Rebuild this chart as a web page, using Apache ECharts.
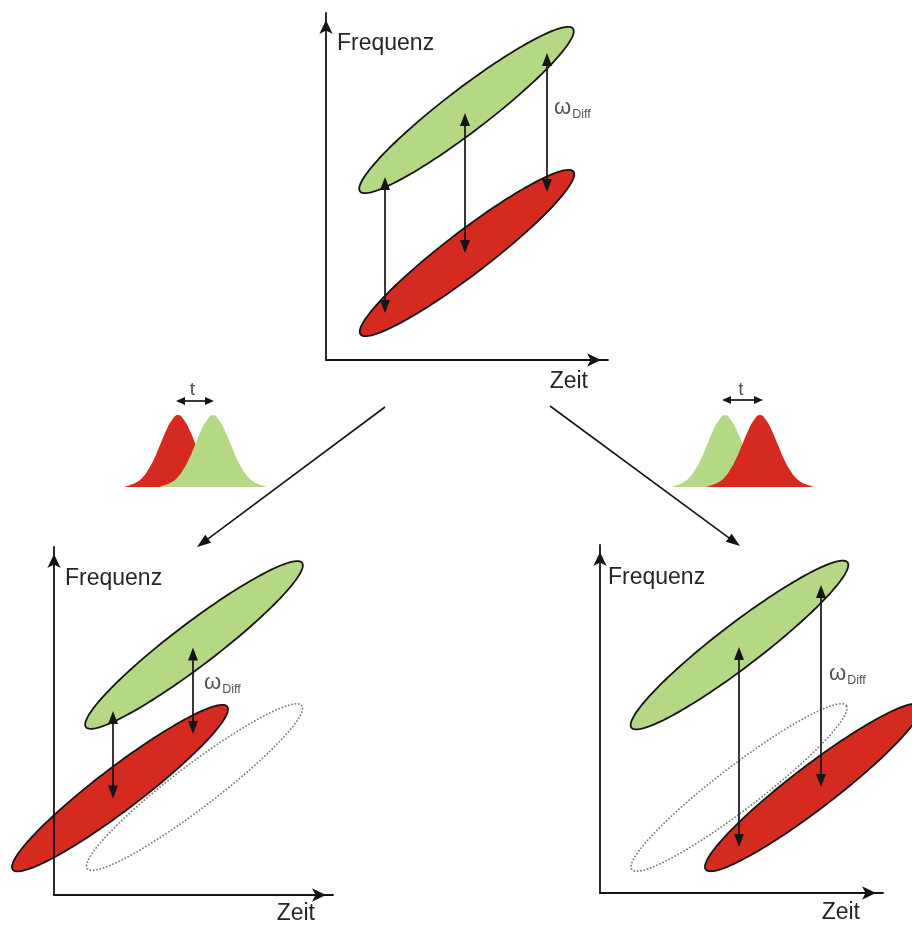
<!DOCTYPE html>
<html><head><meta charset="utf-8">
<script src="https://cdn.jsdelivr.net/npm/echarts@6/dist/echarts.min.js"></script>
<style>html,body{margin:0;padding:0;background:#fff}#c{width:912px;height:925px}</style>
</head><body><div id="c"></div>
<script>
// ---------- text ----------
const yAxisName = 'Frequenz';
const xAxisName = 'Zeit';
const omegaMain = 'ω';
const omegaSub = 'Diff';
const tLabel = 't';

// ---------- panel data (panel units) : [centerX, centerY, semiMajor, semiMinor, angleDeg] ----------
const greenTop = [[140.5, 250, 134, 21.5, 37.4]];
const redTop = [[141, 107, 134, 21.5, 37.4]];
const greenLeft = [[140, 251.5, 136, 21.5, 37.4]];
const redLeft = [[66, 107.5, 135, 21.5, 37.4]];
const dottedLeft = [[140.5, 108.5, 135, 21.5, 37.4]];
const greenRight = [[139.5, 248, 136, 21.5, 37.4]];
const redRight = [[213, 105.5, 135, 21.5, 37.4]];
const dottedRight = [[139, 105.5, 135, 21.5, 37.4]];

// double arrows : [x, yFrom, yTo]
const diffArrowsTop = [[59, 183, 47], [139, 247, 107], [221, 307, 168]];
const diffArrowsLeft = [[59, 185, 97], [139, 249, 162]];
const diffArrowsRight = [[139, 246, 46], [221, 308, 106]];

// omega label anchors
const omegaTop = [[228, 252]];
const omegaLeft = [[150, 213]];
const omegaRight = [[229, 219]];

// ---------- pulse shapes (time, amplitude) ----------
const pulseLeftRed = [[14,0],[20,2],[26,4.5],[32,9],[38,17],[44,28],[50,42],[56,56],[62,67],[68,72],[74,67],[80,56],[86,42],[92,28],[98,17],[104,9],[110,4.5],[116,2],[122,0]];
const pulseLeftGreen = [[49,0],[55,2],[61,4.5],[67,9],[73,17],[79,28],[85,42],[91,56],[97,67],[103,72],[109,67],[115,56],[121,42],[127,28],[133,17],[139,9],[145,4.5],[151,2],[157,0]];
const pulseRightGreen = [[11,0],[17,2],[23,4.5],[29,9],[35,17],[41,28],[47,42],[53,56],[59,67],[65,72],[71,67],[77,56],[83,42],[89,28],[95,17],[101,9],[107,4.5],[113,2],[119,0]];
const pulseRightRed = [[46,0],[52,2],[58,4.5],[64,9],[70,17],[76,28],[82,42],[88,56],[94,67],[100,72],[106,67],[112,56],[118,42],[124,28],[130,17],[136,9],[142,4.5],[148,2],[154,0]];
const tArrowLeft = [[66, 86, 104, 86]];
const tArrowRight = [[62, 87, 103, 87]];
const tLabelLeft = [[82.5, 97]];
const tLabelRight = [[81, 97]];

// ---------- connector arrows (page units) : [x1, y1, x2, y2] ----------
const connectors = [[385, 407, 197, 547], [550, 406, 740, 546]];

// ---------- styles ----------
const FONT = '"Liberation Sans", Arial, sans-serif';
const TXT = '#262626';
const INK = '#151515';
const GREEN = '#b5d885';
const RED = '#d42a1f';

const grids = [
  {left: 326, top: 13, width: 282, height: 347},   // 0 top panel
  {left: 54, top: 547, width: 279, height: 350},   // 1 bottom-left panel
  {left: 600, top: 545, width: 283, height: 348},  // 2 bottom-right panel
  {left: 110, top: 375, width: 170, height: 112},  // 3 left pulses
  {left: 660, top: 375, width: 170, height: 112},  // 4 right pulses
  {left: 0, top: 0, width: 912, height: 925}       // 5 page overlay
];

const nameCfg = [
  {yGap: -19, yPadL: 11, xGap: -20, xPadT: 10},
  {yGap: -20, yPadL: 11, xGap: -18, xPadT: 7},
  {yGap: -21, yPadL: 8, xGap: -23, xPadT: 8}
];

const xAxes = [], yAxes = [];
for (let i = 0; i < 3; i++) {
  const g = grids[i], n = nameCfg[i];
  const axisLine = {onZero: false, lineStyle: {color: INK, width: 1.8}, symbol: ['none', 'arrow'], symbolSize: [10, 14], symbolOffset: [0, -7]};
  xAxes.push({gridIndex: i, type: 'value', min: 0, max: g.width, z: 5, axisLine: axisLine, axisTick: {show: false}, axisLabel: {show: false}, splitLine: {show: false},
    name: xAxisName, nameLocation: 'end', nameGap: n.xGap,
    nameTextStyle: {fontFamily: FONT, fontSize: 23, color: TXT, align: 'right', verticalAlign: 'top', padding: [n.xPadT, 0, 0, 0]}});
  yAxes.push({gridIndex: i, type: 'value', min: 0, max: g.height, z: 5, axisLine: axisLine, axisTick: {show: false}, axisLabel: {show: false}, splitLine: {show: false},
    name: yAxisName, nameLocation: 'end', nameGap: n.yGap,
    nameTextStyle: {fontFamily: FONT, fontSize: 23, color: TXT, align: 'left', verticalAlign: 'top', padding: [0, 0, 0, n.yPadL]}});
}
for (let i = 3; i < 6; i++) {
  const g = grids[i];
  xAxes.push({gridIndex: i, type: 'value', min: 0, max: g.width, show: false});
  yAxes.push({gridIndex: i, type: 'value', min: 0, max: g.height, show: false, inverse: i === 5});
}

function ellipseRender(style) {
  return function (params, api) {
    const cx = api.value(0), cy = api.value(1), a = api.value(2), b = api.value(3);
    const ang = api.value(4) * Math.PI / 180;
    const pts = [];
    const N = 160;
    for (let k = 0; k < N; k++) {
      const t = k / N * 2 * Math.PI;
      const x = cx + a * Math.cos(t) * Math.cos(ang) - b * Math.sin(t) * Math.sin(ang);
      const y = cy + a * Math.cos(t) * Math.sin(ang) + b * Math.sin(t) * Math.cos(ang);
      pts.push(api.coord([x, y]));
    }
    return {type: 'polygon', shape: {points: pts}, style: style};
  };
}

function arrowShapes(p1, p2, headLen, headW, both, lw) {
  const dx = p2[0] - p1[0], dy = p2[1] - p1[1];
  const L = Math.sqrt(dx * dx + dy * dy);
  const ux = dx / L, uy = dy / L, nx = -uy, ny = ux;
  const children = [];
  const s = both ? [p1[0] + ux * headLen * 0.8, p1[1] + uy * headLen * 0.8] : p1;
  const e = [p2[0] - ux * headLen * 0.8, p2[1] - uy * headLen * 0.8];
  children.push({type: 'line', shape: {x1: s[0], y1: s[1], x2: e[0], y2: e[1]}, style: {stroke: INK, lineWidth: lw}});
  function head(tip, dirx, diry) {
    const bx = tip[0] - dirx * headLen, by = tip[1] - diry * headLen;
    return {type: 'polygon', shape: {points: [tip, [bx + nx * headW / 2, by + ny * headW / 2], [bx - nx * headW / 2, by - ny * headW / 2]]}, style: {fill: INK}};
  }
  children.push(head(p2, ux, uy));
  if (both) children.push(head(p1, -ux, -uy));
  return {type: 'group', children: children};
}

function vArrowRender(params, api) {
  const x = api.value(0);
  return arrowShapes(api.coord([x, api.value(1)]), api.coord([x, api.value(2)]), 13, 10, true, 1.7);
}
function segArrowRender(headLen, headW, both, lw) {
  return function (params, api) {
    return arrowShapes(api.coord([api.value(0), api.value(1)]), api.coord([api.value(2), api.value(3)]), headLen, headW, both, lw);
  };
}

const series = [];
function addEllipse(idx, data, style, z) {
  series.push({type: 'custom', xAxisIndex: idx, yAxisIndex: idx, data: data, encode: {x: 0, y: 1}, clip: false, silent: true, z: z,
    renderItem: ellipseRender(style)});
}
const greenStyle = {fill: GREEN, stroke: INK, lineWidth: 1.8};
const redStyle = {fill: RED, stroke: INK, lineWidth: 1.8};
const dotStyle = {fill: 'none', stroke: '#7a7a7a', lineWidth: 1.8, lineDash: [0.1, 3.3], lineCap: 'round'};

addEllipse(0, greenTop, greenStyle, 2);
addEllipse(0, redTop, redStyle, 2);
addEllipse(1, dottedLeft, dotStyle, 2);
addEllipse(1, greenLeft, greenStyle, 2);
addEllipse(1, redLeft, redStyle, 2);
addEllipse(2, dottedRight, dotStyle, 2);
addEllipse(2, greenRight, greenStyle, 2);
addEllipse(2, redRight, redStyle, 2);

[[0, diffArrowsTop], [1, diffArrowsLeft], [2, diffArrowsRight]].forEach(function (d) {
  series.push({type: 'custom', xAxisIndex: d[0], yAxisIndex: d[0], data: d[1], encode: {x: 0, y: 1}, clip: false, silent: true, z: 8, renderItem: vArrowRender});
});

[[0, omegaTop], [1, omegaLeft], [2, omegaRight]].forEach(function (d) {
  series.push({type: 'scatter', xAxisIndex: d[0], yAxisIndex: d[0], data: d[1], symbolSize: 0, silent: true, z: 8,
    label: {show: true, position: 'right', distance: 0, formatter: '{w|' + omegaMain + '}{s|' + omegaSub + '}',
      rich: {w: {fontFamily: FONT, fontSize: 22, color: TXT}, s: {fontFamily: FONT, fontSize: 12.5, color: TXT, verticalAlign: 'bottom', padding: [0, 0, -2, 1]}}}});
});

// pulses
function addPulse(idx, data, color) {
  series.push({type: 'line', xAxisIndex: idx, yAxisIndex: idx, data: data, smooth: true, symbol: 'none', silent: true, z: 2,
    lineStyle: {width: 0, color: color}, itemStyle: {color: color}, areaStyle: {color: color, opacity: 1}});
}
addPulse(3, pulseLeftRed, RED);
addPulse(3, pulseLeftGreen, GREEN);
addPulse(4, pulseRightGreen, GREEN);
addPulse(4, pulseRightRed, RED);

series.push({type: 'custom', xAxisIndex: 3, yAxisIndex: 3, data: tArrowLeft, encode: {x: 0, y: 1}, clip: false, silent: true, z: 8, renderItem: segArrowRender(9, 8, true, 1.7)});
series.push({type: 'custom', xAxisIndex: 4, yAxisIndex: 4, data: tArrowRight, encode: {x: 0, y: 1}, clip: false, silent: true, z: 8, renderItem: segArrowRender(9, 8, true, 1.7)});
[[3, tLabelLeft], [4, tLabelRight]].forEach(function (d) {
  series.push({type: 'scatter', xAxisIndex: d[0], yAxisIndex: d[0], data: d[1], symbolSize: 0, silent: true, z: 8,
    label: {show: true, position: 'inside', formatter: tLabel, fontFamily: FONT, fontSize: 19, color: TXT}});
});

series.push({type: 'custom', xAxisIndex: 5, yAxisIndex: 5, data: connectors, encode: {x: 0, y: 1}, clip: false, silent: true, z: 8, renderItem: segArrowRender(14, 10, false, 1.6)});

const chart = echarts.init(document.getElementById('c'), null, {renderer: 'canvas'});
chart.setOption({
  animation: false,
  backgroundColor: '#ffffff',
  grid: grids.map(function (g) { return Object.assign({containLabel: false}, g); }),
  xAxis: xAxes,
  yAxis: yAxes,
  series: series
});
</script>
</body></html>
